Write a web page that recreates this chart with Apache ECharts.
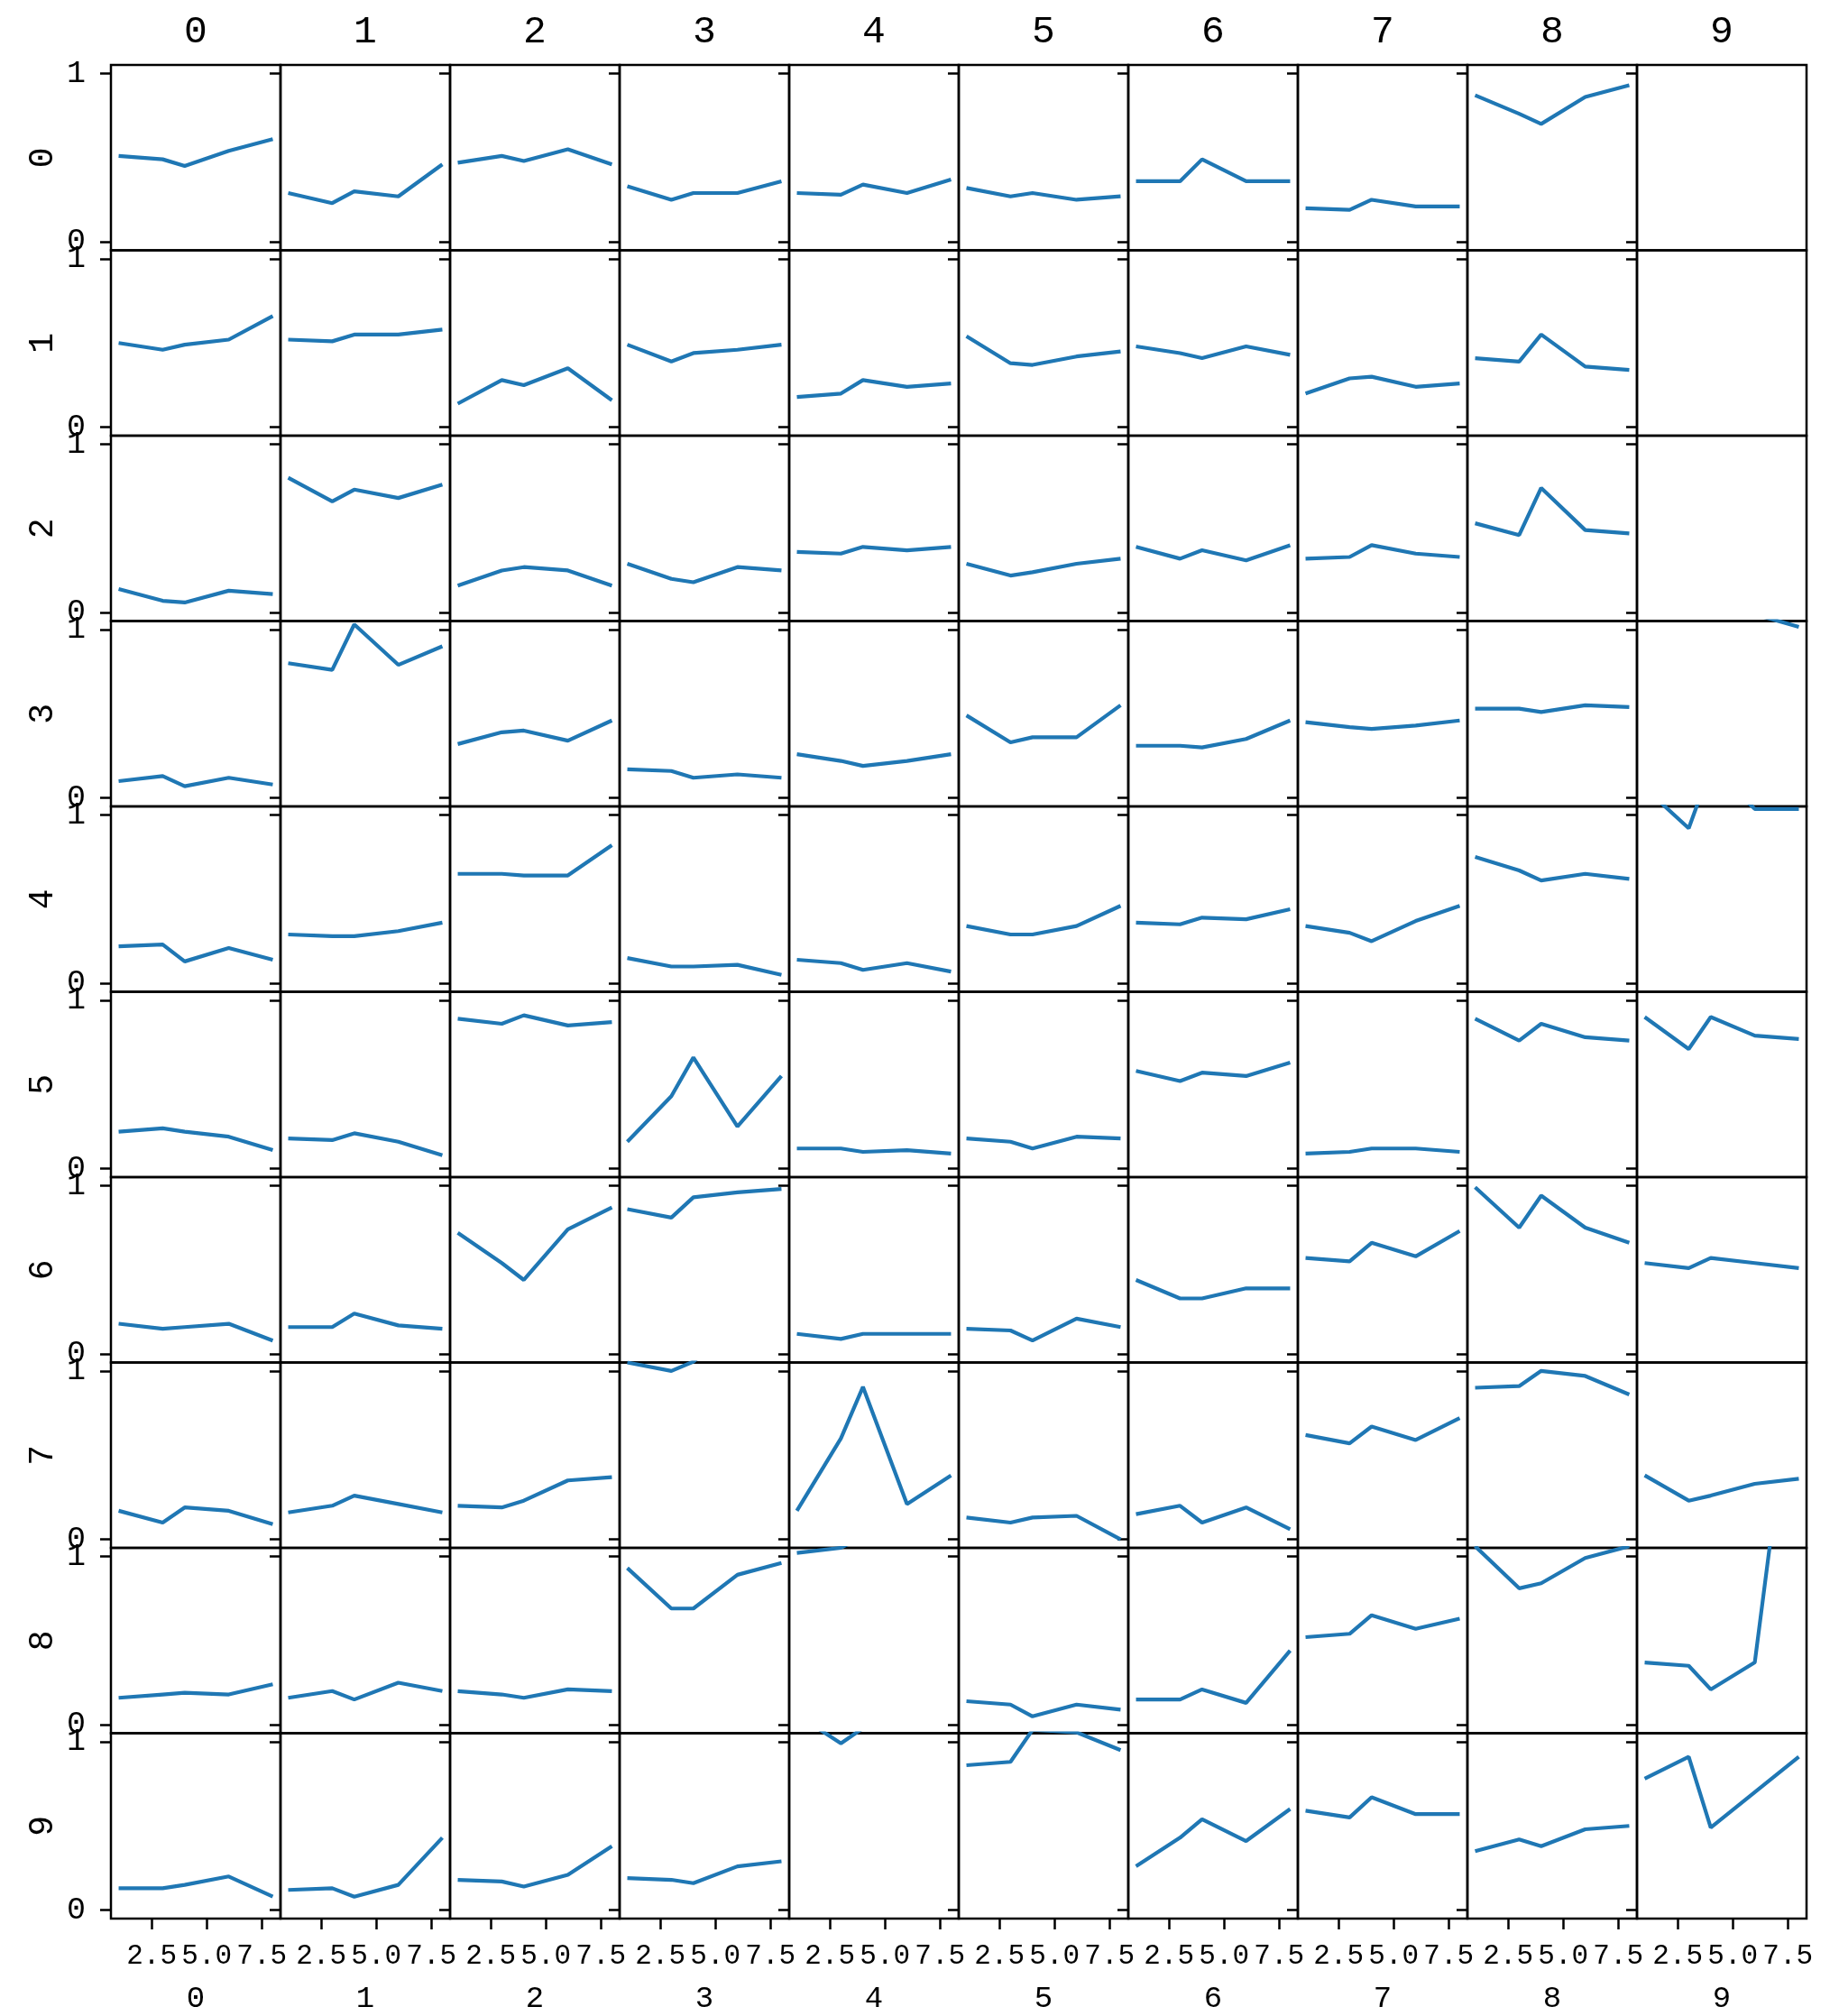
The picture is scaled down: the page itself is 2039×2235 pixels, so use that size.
<!DOCTYPE html>
<html>
<head>
<meta charset="utf-8">
<script src="https://cdn.jsdelivr.net/npm/echarts@6/dist/echarts.min.js"></script>
<style>
html,body{margin:0;padding:0;background:#fff;}
#chart{width:2039px;height:2235px;}
</style>
</head>
<body>
<div id="chart"></div>
<script>
// ---- data ----
const xValues = [1, 3, 4, 6, 8];
const colNames = ['0','1','2','3','4','5','6','7','8','9'];
const rowNames = ['0','1','2','3','4','5','6','7','8','9'];
const xTickValues = [2.5, 5.0, 7.5];
const yTickValues = [0, 1];

const row0 = [
  [0.51, 0.49, 0.45, 0.54, 0.61],
  [0.29, 0.23, 0.30, 0.27, 0.46],
  [0.47, 0.51, 0.48, 0.55, 0.46],
  [0.33, 0.25, 0.29, 0.29, 0.36],
  [0.29, 0.28, 0.34, 0.29, 0.37],
  [0.32, 0.27, 0.29, 0.25, 0.27],
  [0.36, 0.36, 0.49, 0.36, 0.36],
  [0.20, 0.19, 0.25, 0.21, 0.21],
  [0.87, 0.76, 0.70, 0.86, 0.93],
  [1.35, 1.52, 1.28, 1.44, 1.61]
];
const row1 = [
  [0.50, 0.46, 0.49, 0.52, 0.66],
  [0.52, 0.51, 0.55, 0.55, 0.58],
  [0.14, 0.28, 0.25, 0.35, 0.16],
  [0.49, 0.39, 0.44, 0.46, 0.49],
  [0.18, 0.20, 0.28, 0.24, 0.26],
  [0.54, 0.38, 0.37, 0.42, 0.45],
  [0.48, 0.44, 0.41, 0.48, 0.43],
  [0.20, 0.29, 0.30, 0.24, 0.26],
  [0.41, 0.39, 0.55, 0.36, 0.34],
  [1.42, 1.30, 1.57, 1.25, 1.38]
];
const row2 = [
  [0.14, 0.07, 0.06, 0.13, 0.11],
  [0.80, 0.66, 0.73, 0.68, 0.76],
  [0.16, 0.25, 0.27, 0.25, 0.16],
  [0.29, 0.20, 0.18, 0.27, 0.25],
  [0.36, 0.35, 0.39, 0.37, 0.39],
  [0.29, 0.22, 0.24, 0.29, 0.32],
  [0.39, 0.32, 0.37, 0.31, 0.40],
  [0.32, 0.33, 0.40, 0.35, 0.33],
  [0.53, 0.46, 0.74, 0.49, 0.47],
  [1.29, 1.46, 1.33, 1.55, 1.40]
];
const row3 = [
  [0.10, 0.13, 0.07, 0.12, 0.08],
  [0.80, 0.76, 1.03, 0.79, 0.90],
  [0.32, 0.39, 0.40, 0.34, 0.46],
  [0.17, 0.16, 0.12, 0.14, 0.12],
  [0.26, 0.22, 0.19, 0.22, 0.26],
  [0.49, 0.33, 0.36, 0.36, 0.55],
  [0.31, 0.31, 0.30, 0.35, 0.46],
  [0.45, 0.42, 0.41, 0.43, 0.46],
  [0.53, 0.53, 0.51, 0.55, 0.54],
  [1.48, 1.36, 1.25, 1.09, 1.015]
];
const row4 = [
  [0.22, 0.23, 0.13, 0.21, 0.14],
  [0.29, 0.28, 0.28, 0.31, 0.36],
  [0.65, 0.65, 0.64, 0.64, 0.82],
  [0.15, 0.10, 0.10, 0.11, 0.05],
  [0.14, 0.12, 0.08, 0.12, 0.07],
  [0.34, 0.29, 0.29, 0.34, 0.46],
  [0.36, 0.35, 0.39, 0.38, 0.44],
  [0.34, 0.30, 0.25, 0.37, 0.46],
  [0.75, 0.67, 0.61, 0.65, 0.62],
  [1.16, 0.92, 1.28, 1.035, 1.035]
];
const row5 = [
  [0.22, 0.24, 0.22, 0.19, 0.11],
  [0.18, 0.17, 0.21, 0.16, 0.08],
  [0.89, 0.86, 0.91, 0.85, 0.87],
  [0.16, 0.43, 0.66, 0.25, 0.55],
  [0.12, 0.12, 0.10, 0.11, 0.09],
  [0.18, 0.16, 0.12, 0.19, 0.18],
  [0.58, 0.52, 0.57, 0.55, 0.63],
  [0.09, 0.10, 0.12, 0.12, 0.10],
  [0.89, 0.76, 0.86, 0.78, 0.76],
  [0.90, 0.71, 0.90, 0.79, 0.77]
];
const row6 = [
  [0.18, 0.15, 0.16, 0.18, 0.08],
  [0.16, 0.16, 0.24, 0.17, 0.15],
  [0.72, 0.54, 0.44, 0.74, 0.87],
  [0.86, 0.81, 0.93, 0.96, 0.98],
  [0.12, 0.09, 0.12, 0.12, 0.12],
  [0.15, 0.14, 0.08, 0.21, 0.16],
  [0.44, 0.33, 0.33, 0.39, 0.39],
  [0.57, 0.55, 0.66, 0.58, 0.73],
  [0.99, 0.75, 0.94, 0.75, 0.66],
  [0.54, 0.51, 0.57, 0.54, 0.51]
];
const row7 = [
  [0.17, 0.10, 0.19, 0.17, 0.09],
  [0.16, 0.20, 0.26, 0.21, 0.16],
  [0.20, 0.19, 0.23, 0.35, 0.37],
  [1.05, 1.00, 1.055, 1.28, 1.19],
  [0.17, 0.60, 0.905, 0.21, 0.38],
  [0.13, 0.10, 0.13, 0.14, 0.00],
  [0.15, 0.20, 0.10, 0.19, 0.06],
  [0.62, 0.57, 0.67, 0.59, 0.72],
  [0.90, 0.91, 1.00, 0.97, 0.86],
  [0.38, 0.23, 0.26, 0.33, 0.36]
];
const row8 = [
  [0.16, 0.18, 0.19, 0.18, 0.24],
  [0.16, 0.20, 0.15, 0.25, 0.20],
  [0.20, 0.18, 0.16, 0.21, 0.20],
  [0.93, 0.69, 0.69, 0.89, 0.96],
  [1.02, 1.05, 1.12, 1.24, 1.18],
  [0.14, 0.12, 0.05, 0.12, 0.09],
  [0.15, 0.15, 0.21, 0.13, 0.44],
  [0.52, 0.54, 0.65, 0.57, 0.63],
  [1.06, 0.81, 0.84, 0.99, 1.06],
  [0.37, 0.35, 0.21, 0.37, 2.40]
];
const row9 = [
  [0.13, 0.13, 0.15, 0.20, 0.08],
  [0.12, 0.13, 0.08, 0.15, 0.43],
  [0.18, 0.17, 0.14, 0.21, 0.38],
  [0.19, 0.18, 0.16, 0.26, 0.29],
  [1.16, 0.99, 1.08, 1.22, 1.31],
  [0.86, 0.88, 1.07, 1.055, 0.95],
  [0.26, 0.43, 0.54, 0.41, 0.60],
  [0.59, 0.55, 0.67, 0.57, 0.57],
  [0.35, 0.42, 0.38, 0.48, 0.50],
  [0.78, 0.91, 0.49, 0.70, 0.91]
];
const rows = [row0, row1, row2, row3, row4, row5, row6, row7, row8, row9];

// ---- layout / style ----
const GL = 123, GT = 72, CW = 188, CH = 205.5;
const FONT = '"Liberation Mono", "DejaVu Sans Mono", monospace';
const LINE_COLOR = '#1f77b4';

const grids = [], xAxes = [], yAxes = [], series = [], graphics = [];
for (let i = 0; i < 10; i++) {
  for (let j = 0; j < 10; j++) {
    const idx = i * 10 + j;
    grids.push({
      left: GL + j * CW, top: GT + i * CH, width: CW, height: CH,
      show: true, borderColor: '#000', borderWidth: 2.5, backgroundColor: 'transparent'
    });
    const bottom = (i === 9);
    xAxes.push({
      gridIndex: idx, type: 'value', min: 0.65, max: 8.35,
      axisLine: { show: false, onZero: false },
      splitLine: { show: false },
      axisTick: { show: bottom, customValues: xTickValues, length: 12, lineStyle: { color: '#000', width: 2.5 } },
      axisLabel: { show: bottom, customValues: xTickValues, formatter: v => Number(v).toFixed(1),
                   margin: 26, fontSize: 31, color: '#000', fontFamily: FONT },
      name: bottom ? colNames[j] : '', nameLocation: 'middle', nameGap: 72,
      nameTextStyle: { fontSize: 34, color: '#000', fontFamily: FONT, verticalAlign: 'top' }
    });
    const first = (j === 0);
    yAxes.push({
      gridIndex: idx, type: 'value', min: -0.05, max: 1.05,
      axisLine: { show: false, onZero: false },
      splitLine: { show: false },
      axisTick: { show: true, customValues: yTickValues, length: 12, lineStyle: { color: '#000', width: 2.5 } },
      axisLabel: { show: first, customValues: yTickValues, margin: 28, fontSize: 35, color: '#000', fontFamily: FONT },
      name: first ? rowNames[i] : '', nameLocation: 'middle', nameRotate: 90, nameGap: 56,
      nameTextStyle: { fontSize: 38, color: '#000', fontFamily: FONT }
    });
    series.push({
      type: 'line', xAxisIndex: idx, yAxisIndex: idx,
      data: xValues.map((x, k) => [x, rows[i][j][k]]),
      symbol: 'none', showSymbol: false, clip: true, silent: true,
      lineStyle: { color: LINE_COLOR, width: 4.2 }
    });
  }
}
for (let j = 0; j < 10; j++) {
  graphics.push({
    type: 'text', x: GL + j * CW + CW / 2, y: 36,
    style: { text: colNames[j], fontSize: 43, fontFamily: FONT, fill: '#000', align: 'center', verticalAlign: 'middle' }
  });
}

const chart = echarts.init(document.getElementById('chart'));
chart.setOption({
  animation: false,
  backgroundColor: '#fff',
  grid: grids, xAxis: xAxes, yAxis: yAxes, series: series,
  graphic: graphics
});
</script>
</body>
</html>
